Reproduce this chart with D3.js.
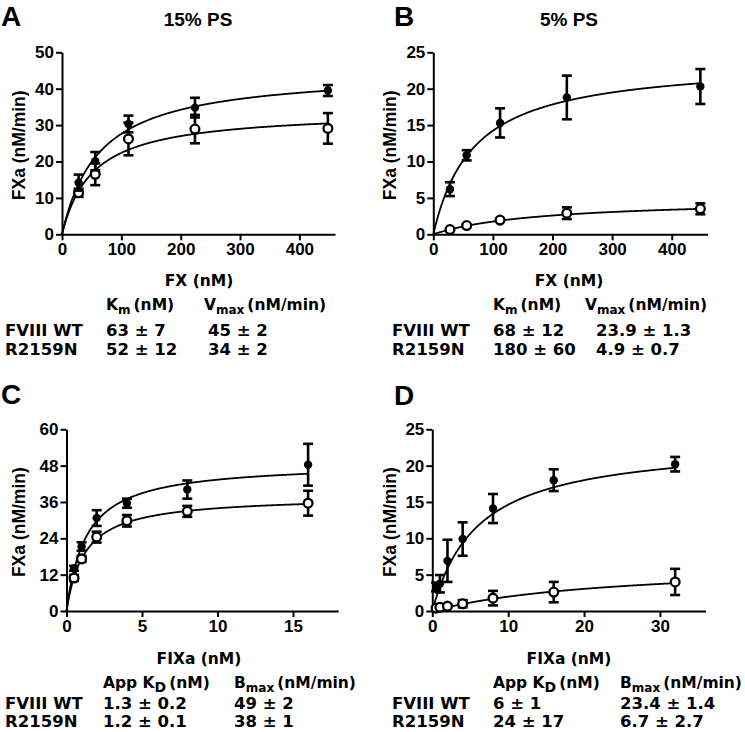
<!DOCTYPE html>
<html><head><meta charset="utf-8">
<script src="https://cdn.jsdelivr.net/npm/d3@7"></script>
<style>
body{margin:0;background:#fff}
svg{display:block}
.tick text{font-family:Arial,"Liberation Sans",sans-serif;font-weight:bold;font-size:17px;fill:#000}
.axis path,.axis line{stroke:#000;stroke-width:2}
.tbl{font-family:"DejaVu Sans",Verdana,sans-serif;font-weight:bold;font-size:16.5px;fill:#000}
.hdr{font-family:"DejaVu Sans",Verdana,sans-serif;font-weight:bold;font-size:15.5px;fill:#000}
.xl{font-family:"DejaVu Sans",Verdana,sans-serif;font-weight:bold;font-size:15.5px;fill:#000}
.ar{font-family:Arial,"Liberation Sans",sans-serif;font-weight:bold;fill:#000}
</style></head><body>
<script>
// ---------------- DATA ----------------
// Panel A: 15% PS, FX titration
const aX = [28, 56, 112, 224, 448];
const aWT = [14.2, 20.1, 30.3, 34.8, 39.5];
const aWTerr = [2.2, 2.5, 2.3, 2.7, 1.5];
const aMut = [11.4, 16.5, 26.2, 28.9, 29.1];
const aMutErr = [1.1, 3.0, 4.5, 3.9, 4.2];
const aFit = {wt: [63, 45], mut: [52, 34]};          // [Km, Vmax]
const aXTicks = [0, 100, 200, 300, 400];
const aYTicks = [0, 10, 20, 30, 40, 50];

// Panel B: 5% PS, FX titration
const bX = [28, 56, 112, 224, 448];
const bWT = [6.2, 10.85, 15.3, 18.8, 20.3];
const bWTerr = [0.95, 0.7, 2.0, 3.0, 2.4];
const bMut = [0.65, 1.2, 1.95, 2.9, 3.5];
const bMutErr = [0.1, 0.12, 0.15, 0.8, 0.75];
const bFit = {wt: [68, 23.9], mut: [180, 4.9]};
const bXTicks = [0, 100, 200, 300, 400];
const bYTicks = [0, 5, 10, 15, 20, 25];

// Panel C: FIXa titration (15% PS)
const cX = [0.5, 1, 2, 4, 8, 16];
const cWT = [14.1, 21.3, 30.7, 35.6, 40.1, 48.3];
const cWTerr = [0.8, 1.4, 2.6, 1.5, 3.0, 6.9];
const cMut = [10.9, 17.2, 24.4, 29.8, 32.9, 35.6];
const cMutErr = [1.0, 1.0, 1.8, 1.9, 1.8, 4.1];
const cFit = {wt: [1.3, 49], mut: [1.2, 38]};        // [KD, Bmax]
const cXTicks = [0, 5, 10, 15];
const cYTicks = [0, 12, 24, 36, 48, 60];

// Panel D: FIXa titration (5% PS)
const dX = [0.5, 1, 2, 4, 8, 16, 32];
const dWT = [3.3, 3.75, 6.9, 9.9, 14.1, 18.0, 20.2];
const dWTerr = [0.6, 1.2, 2.9, 2.3, 2.0, 1.5, 1.0];
const dMut = [0.4, 0.5, 0.67, 1.0, 1.77, 2.6, 4.0];
const dMutErr = [0.1, 0.15, 0.2, 0.5, 1.0, 1.4, 1.8];
const dFit = {wt: [6, 23.4], mut: [24, 6.7]};
const dXTicks = [0, 10, 20, 30];
const dYTicks = [0, 5, 10, 15, 20, 25];

// Tables
const rowLabels = ["FVIII WT", "R2159N"];
const aTable = [["63 ± 7", "45 ± 2"], ["52 ± 12", "34 ± 2"]];
const bTable = [["68 ± 12", "23.9 ± 1.3"], ["180 ± 60", "4.9 ± 0.7"]];
const cTable = [["1.3 ± 0.2", "49 ± 2"], ["1.2 ± 0.1", "38 ± 1"]];
const dTable = [["6 ± 1", "23.4 ± 1.4"], ["24 ± 17", "6.7 ± 2.7"]];

// ---------------- DRAW ----------------
const svg = d3.select("body").append("svg").attr("width", 745).attr("height", 732);

function panel(o) {
  const x = d3.scaleLinear().domain(o.xDom).range(o.xR);
  const y = d3.scaleLinear().domain(o.yDom).range(o.yR);
  const g = svg.append("g");
  g.append("g").attr("class", "axis").attr("transform", `translate(0,${o.yR[0]})`)
    .call(d3.axisBottom(x).tickValues(o.xTicks).tickSize(6).tickSizeOuter(0).tickPadding(3).tickFormat(d3.format("d")));
  g.append("g").attr("class", "axis").attr("transform", `translate(${o.xR[0]},0)`)
    .call(d3.axisLeft(y).tickValues(o.yTicks).tickSize(6).tickSizeOuter(0).tickPadding(2).tickFormat(d3.format("d")));
  // fit curves (hyperbolic fits from the reported parameters)
  const xmax = d3.max(o.x);
  const line = d3.line().x(d => x(d[0])).y(d => y(d[1]));
  [o.fit.wt, o.fit.mut].forEach(p => {
    const pts = d3.range(0, 401).map(i => { const v = xmax * i / 400; return [v, p[1] * v / (p[0] + v)]; });
    g.append("path").attr("d", line(pts)).attr("fill", "none").attr("stroke", "#000").attr("stroke-width", 1.8);
  });
  function series(vals, errs, open) {
    const cap = 5;
    o.x.forEach((xv, i) => {
      const cx = x(xv), lo = y(vals[i] - errs[i]), hi = y(vals[i] + errs[i]);
      g.append("line").attr("x1", cx).attr("x2", cx).attr("y1", lo).attr("y2", hi).attr("stroke", "#000").attr("stroke-width", 2.6);
      [lo, hi].forEach(yy => g.append("line").attr("x1", cx - cap).attr("x2", cx + cap).attr("y1", yy).attr("y2", yy).attr("stroke", "#000").attr("stroke-width", 2.6));
    });
    g.selectAll(null).data(vals).enter().append("circle")
      .attr("cx", (d, i) => x(o.x[i])).attr("cy", d => y(d))
      .attr("r", open ? 4.4 : 4.2)
      .attr("fill", open ? "#fff" : "#000").attr("stroke", "#000").attr("stroke-width", open ? 2.3 : 0);
  }
  series(o.mut, o.mutErr, true);
  series(o.wt, o.wtErr, false);
  // y label
  g.append("text").attr("class", "ar").attr("font-size", 17.5).attr("text-anchor", "middle")
    .attr("transform", `translate(${o.yLabX},${(o.yR[0] + o.yR[1]) / 2 + 2}) rotate(-90)`).text("FXa (nM/min)");
  // x label
  g.append("text").attr("class", "xl").attr("text-anchor", "middle")
    .attr("x", o.xLabX).attr("y", o.tblY[0]).text(o.xLabel);
  // panel letter
  g.append("text").attr("class", "ar").attr("font-size", 28).attr("x", o.letter[1]).attr("y", o.letter[2]).text(o.letter[0]);
  if (o.title) g.append("text").attr("class", "ar").attr("font-size", 19).attr("text-anchor", "middle")
    .attr("x", o.title[1]).attr("y", 26).text(o.title[0]);
  // table header
  const h1 = g.append("text").attr("class", "hdr").attr("x", o.cols[0]).attr("y", o.tblY[1]);
  h1.append("tspan").text(o.h1[0]);
  h1.append("tspan").attr("font-size", o.h1sub).attr("dy", 4).text(o.h1[1]);
  h1.append("tspan").attr("dy", -4).attr("dx", 3).text("(nM)");
  const h2 = g.append("text").attr("class", "hdr").attr("x", o.cols[1]).attr("y", o.tblY[1]);
  h2.append("tspan").text(o.h2[0]);
  h2.append("tspan").attr("font-size", 12).attr("dy", 4).text("max");
  h2.append("tspan").attr("dy", -4).attr("dx", 3).text("(nM/min)");
  rowLabels.forEach((r, i) => {
    g.append("text").attr("class", "tbl").attr("x", o.rowX).attr("y", o.tblY[2 + i]).text(r);
    g.append("text").attr("class", "tbl").attr("x", o.valCols[0]).attr("y", o.tblY[2 + i]).text(o.table[i][0]);
    g.append("text").attr("class", "tbl").attr("x", o.valCols[1]).attr("y", o.tblY[2 + i]).text(o.table[i][1]);
  });
}

panel({x: aX, wt: aWT, wtErr: aWTerr, mut: aMut, mutErr: aMutErr, fit: aFit,
  xDom: [0, 460], yDom: [0, 50], xR: [62, 335], yR: [234.3, 52.3], xTicks: aXTicks, yTicks: aYTicks,
  yLabX: 25, xLabX: 199, xLabel: "FX (nM)", letter: ["A", 1, 26], title: ["15% PS", 198],
  tblY: [286, 310, 336, 355], cols: [106, 204], valCols: [106, 208], rowX: 5,
  h1: ["K", "m"], h1sub: 12, h2: ["V"], table: aTable});

panel({x: bX, wt: bWT, wtErr: bWTerr, mut: bMut, mutErr: bMutErr, fit: bFit,
  xDom: [0, 460], yDom: [0, 25], xR: [433.3, 707.5], yR: [234.3, 52.3], xTicks: bXTicks, yTicks: bYTicks,
  yLabX: 396, xLabX: 569, xLabel: "FX (nM)", letter: ["B", 394, 26], title: ["5% PS", 569],
  tblY: [286, 310, 336, 355], cols: [493, 585], valCols: [493, 596], rowX: 392,
  h1: ["K", "m"], h1sub: 12, h2: ["V"], table: bTable});

panel({x: cX, wt: cWT, wtErr: cWTerr, mut: cMut, mutErr: cMutErr, fit: cFit,
  xDom: [0, 18], yDom: [0, 60], xR: [66.5, 338.3], yR: [611, 429.3], xTicks: cXTicks, yTicks: cYTicks,
  yLabX: 25, xLabX: 199, xLabel: "FIXa (nM)", letter: ["C", 1, 404], title: null,
  tblY: [664, 688, 709, 727], cols: [103, 234], valCols: [103, 234], rowX: 5,
  h1: ["App K", "D"], h1sub: 14, h2: ["B"], table: cTable});

panel({x: dX, wt: dWT, wtErr: dWTerr, mut: dMut, mutErr: dMutErr, fit: dFit,
  xDom: [0, 36], yDom: [0, 25], xR: [432.3, 705.5], yR: [611, 429.3], xTicks: dXTicks, yTicks: dYTicks,
  yLabX: 396, xLabX: 569, xLabel: "FIXa (nM)", letter: ["D", 394, 405], title: null,
  tblY: [664, 688, 709, 727], cols: [493, 620], valCols: [493, 620], rowX: 392,
  h1: ["App K", "D"], h1sub: 14, h2: ["B"], table: dTable});
</script>
</body></html>
